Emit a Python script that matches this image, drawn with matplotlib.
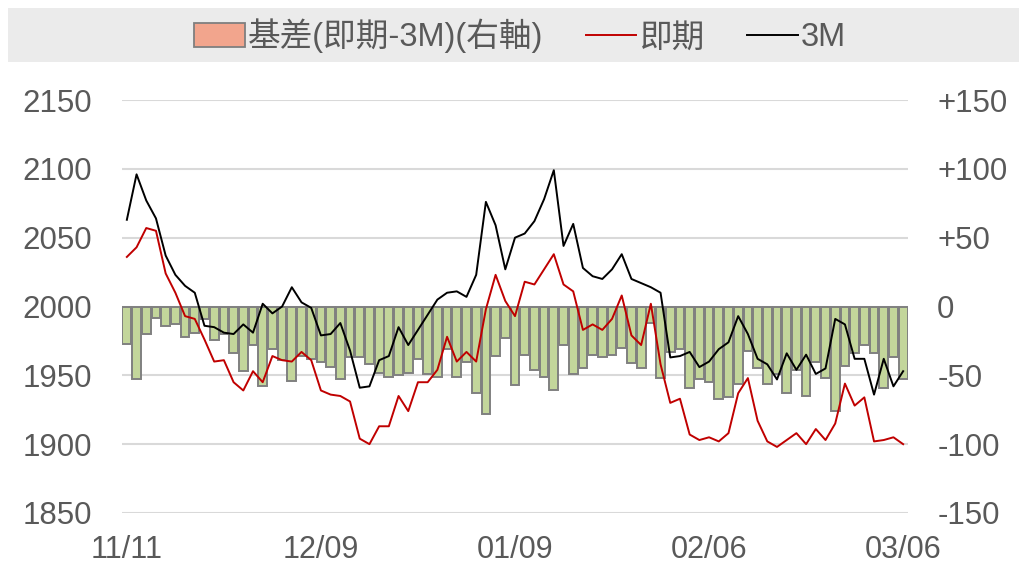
import matplotlib
matplotlib.use("Agg")
import matplotlib.pyplot as plt
import matplotlib.patches as mpatches
import matplotlib.lines as mlines
import numpy as np

# 3M price (left axis)
m3 = [2063, 2096, 2077, 2064, 2037, 2023, 2015, 2010, 1986, 1985,
      1981, 1980, 1987, 1981, 2002, 1995, 2000, 2014, 2003, 1999,
      1979, 1980, 1988, 1968, 1941, 1942, 1961, 1964, 1985, 1972,
      1983, 1994, 2005, 2010, 2011, 2007, 2023, 2076, 2059, 2027,
      2050, 2053, 2062, 2078, 2099, 2044, 2060, 2028, 2022, 2020,
      2027, 2038, 2020, 2017, 2014, 2010, 1963, 1964, 1967, 1956,
      1960, 1969, 1974, 1993, 1980, 1962, 1958, 1947, 1966, 1954,
      1965, 1951, 1955, 1991, 1987, 1962, 1962, 1936, 1962, 1942,
      1953]

# spot price (left axis)
spot = [2036, 2043, 2057, 2055, 2024, 2010, 1993, 1991, 1976, 1960,
        1961, 1945, 1939, 1953, 1945, 1964, 1961, 1960, 1967, 1961,
        1939, 1936, 1935, 1931, 1904, 1900, 1913, 1913, 1935, 1924,
        1945, 1945, 1954, 1978, 1960, 1967, 1960, 1998, 2023, 2004,
        1993, 2018, 2016, 2027, 2038, 2016, 2011, 1983, 1987, 1983,
        1991, 2008, 1979, 1972, 2002, 1958, 1930, 1933, 1907, 1903,
        1905, 1902, 1908, 1937, 1948, 1917, 1902, 1898, 1903, 1908,
        1900, 1911, 1903, 1915, 1944, 1928, 1934, 1902, 1903, 1905,
        1900]

# basis spot-3M (right axis)
basis = [-27, -53, -20, -8, -14, -13, -22, -19, -9, -24,
         -20, -34, -47, -28, -58, -31, -39, -54, -36, -38,
         -40, -44, -53, -37, -37, -42, -48, -51, -50, -48,
         -38, -49, -51, -31, -51, -40, -63, -78, -36, -23,
         -57, -35, -46, -51, -61, -28, -49, -45, -35, -37,
         -35, -30, -41, -45, -12, -52, -33, -31, -59, -53,
         -55, -67, -66, -56, -32, -45, -56, -49, -63, -46,
         -65, -40, -52, -76, -43, -34, -28, -34, -59, -37,
         -53]

tick_pos = [0, 20, 40, 60, 80]
tick_labels = ["11/11", "12/09", "01/09", "02/06", "03/06"]
left_ticks = [1850, 1900, 1950, 2000, 2050, 2100, 2150]
right_ticks = [-150, -100, -50, 0, 50, 100, 150]
right_labels = ["-150", "-100", "-50", "0", "+50", "+100", "+150"]

txt = "#595959"
fam = ["Liberation Sans", "Noto Sans CJK TC", "DejaVu Sans"]
plt.rcParams["font.family"] = fam

fig = plt.figure(figsize=(10.2, 5.68), dpi=100)
x = np.arange(len(m3))

# bars axis (right side), drawn underneath
axb = fig.add_axes([122 / 1020, 1 - 513 / 568, 786 / 1020, 413 / 568])
axb.bar(x, basis, width=0.9, color="#c3d69b", edgecolor="#808080", linewidth=1.4, zorder=2)
axb.set_ylim(-150, 150)
axb.grid(axis="y", color="#d9d9d9", linewidth=1.5, zorder=0)
axb.set_axisbelow(True)
axb.set_xlim(-0.5, len(m3) - 0.5)
axb.set_xticks(tick_pos)
axb.set_xticklabels(tick_labels)
for s in axb.spines.values():
    s.set_visible(False)

# lines axis (left side), on top
axl = axb.twinx()
axl.plot(x, spot, color="#c00000", linewidth=1.4, zorder=3)
axl.plot(x, m3, color="black", linewidth=1.4, zorder=3)
axl.set_ylim(1850, 2150)
axl.set_yticks(left_ticks)
axl.yaxis.tick_left()
axl.tick_params(axis="y", length=0, pad=21.5, labelsize=22.5, labelcolor=txt)
for s in axl.spines.values():
    s.set_visible(False)

# twinx moves the host ticks, so set the right side afterwards
axb.yaxis.tick_right()
axb.set_yticks(right_ticks)
axb.set_yticklabels(right_labels)
axb.tick_params(axis="y", left=False, labelleft=False, right=False, labelright=True,
                length=0, pad=21, labelsize=22.5, labelcolor=txt)
axb.tick_params(axis="x", length=0, pad=16, labelsize=22, labelcolor=txt)

# grey legend band
fig.patches.append(mpatches.Rectangle((8 / 1020, 1 - 62 / 568), 1012 / 1020, 54 / 568,
                                      transform=fig.transFigure, facecolor="#ebebeb",
                                      edgecolor="none", zorder=0))
h_bar = mpatches.Patch(facecolor="#f2a58d", edgecolor="#7f7f7f", linewidth=1.3)
h_spot = mlines.Line2D([], [], color="#c00000", linewidth=1.4)
h_m3 = mlines.Line2D([], [], color="black", linewidth=1.4)
leg = fig.legend([h_bar, h_spot, h_m3], ["基差(即期-3M)(右軸)", "即期", "3M"],
                 loc="center", bbox_to_anchor=(0.510, 1 - 36 / 568), ncol=3,
                 frameon=False, fontsize=23.5, handlelength=1.55, handleheight=0.75,
                 handletextpad=0.1, columnspacing=1.3, borderaxespad=0)
for t in leg.get_texts():
    t.set_color(txt)

fig.savefig("out.png", dpi=100)
